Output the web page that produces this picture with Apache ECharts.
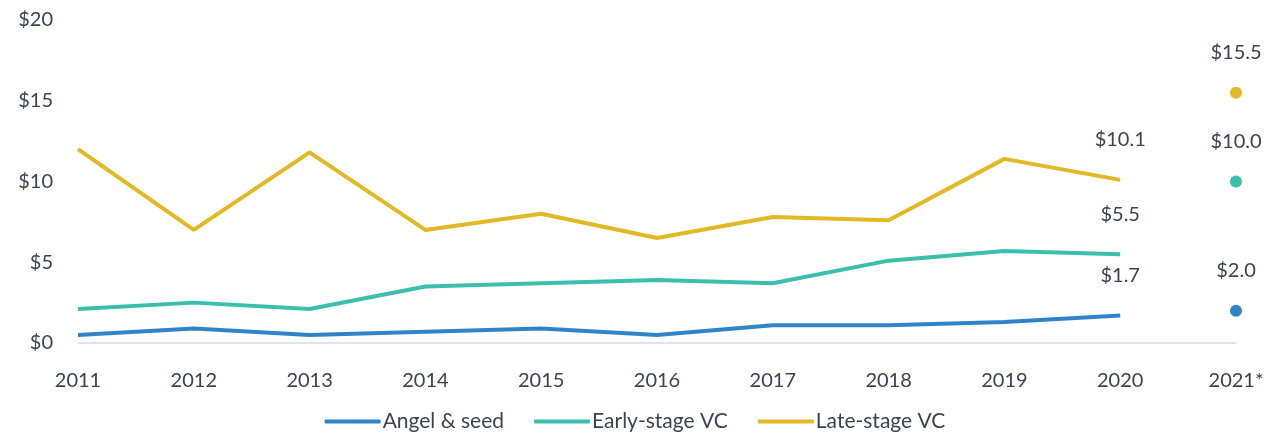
<!DOCTYPE html>
<html>
<head>
<meta charset="utf-8">
<script src="https://cdn.jsdelivr.net/npm/echarts@6/dist/echarts.min.js"></script>
<style>
  html, body { margin: 0; padding: 0; background: #fff; }
  #chart { width: 1270px; height: 438px; }
</style>
</head>
<body>
<div id="chart"></div>
<script>
// data (US$ billions)
const years = ["2011", "2012", "2013", "2014", "2015", "2016", "2017", "2018", "2019", "2020", "2021*"]
const angelSeed = [0.5, 0.9, 0.5, 0.7, 0.9, 0.5, 1.1, 1.1, 1.3, 1.7, null]
const earlyVC = [2.1, 2.5, 2.1, 3.5, 3.7, 3.9, 3.7, 5.1, 5.7, 5.5, null]
const lateVC = [12.0, 7.0, 11.8, 7.0, 8.0, 6.5, 7.8, 7.6, 11.4, 10.1, null]
const proj2021 = { angel: 2.0, early: 10.0, late: 15.5 }
const yTicks = [0, 5, 10, 15, 20]

const colors = { angel: "#2f84c7", early: "#3bbfad", late: "#e2b823" }
const textColor = "#3b4352"
const font = "Lato, 'Noto Sans', sans-serif"

// label only the 2020 point on each line
const lastLabel = (arr) =>
  arr.map((v, i) => (i === 9 ? { value: v, label: { show: true } } : v))

const lineSeries = (name, data, color) => ({
  name: name,
  type: "line",
  data: lastLabel(data),
  showSymbol: true,
  symbol: "circle",
  symbolSize: 0,
  lineStyle: { width: 4, color: color },
  itemStyle: { color: color, opacity: 1 },
  label: {
    show: false,
    position: "top",
    distance: 30,
    color: textColor,
    fontFamily: font,
    fontSize: 20,
    formatter: (p) => "$" + Number(p.value).toFixed(1),
  },
  emphasis: { disabled: true },
})

const dotSeries = (name, value, color) => ({
  name: name,
  type: "scatter",
  data: [["2021*", value]],
  symbolSize: 12,
  itemStyle: { color: color, opacity: 1 },
  label: {
    show: true,
    position: "top",
    distance: 24,
    color: textColor,
    fontFamily: font,
    fontSize: 20,
    formatter: (p) => "$" + p.value[1].toFixed(1),
  },
  emphasis: { disabled: true },
})

const chart = echarts.init(document.getElementById("chart"))
chart.setOption({
  animation: false,
  textStyle: { fontFamily: font },
  grid: { left: 78, right: 34, top: 20, bottom: 95, containLabel: false },
  legend: {
    data: ["Angel & seed", "Early-stage VC", "Late-stage VC"],
    bottom: 1,
    left: "center",
    itemWidth: 56,
    itemHeight: 4,
    itemGap: 30,
    icon: "roundRect",
    textStyle: { color: textColor, fontSize: 21, fontFamily: font, padding: [0, 0, 0, -3] },
  },
  xAxis: {
    type: "category",
    data: years,
    boundaryGap: false,
    axisLine: { lineStyle: { color: "#d9dce3", width: 1.5 } },
    axisTick: { show: false },
    axisLabel: { color: textColor, fontSize: 20, fontFamily: font, margin: 28 },
  },
  yAxis: {
    type: "value",
    min: yTicks[0],
    max: yTicks[yTicks.length - 1],
    interval: 5,
    splitLine: { show: false },
    axisLine: { show: false },
    axisTick: { show: false },
    axisLabel: {
      color: textColor,
      fontSize: 20,
      fontFamily: font,
      margin: 25,
      formatter: (v) => "$" + v,
    },
  },
  series: [
    lineSeries("Angel & seed", angelSeed, colors.angel),
    lineSeries("Early-stage VC", earlyVC, colors.early),
    lineSeries("Late-stage VC", lateVC, colors.late),
    dotSeries("Angel 2021", proj2021.angel, colors.angel),
    dotSeries("Early 2021", proj2021.early, colors.early),
    dotSeries("Late 2021", proj2021.late, colors.late),
  ],
})
</script>
</body>
</html>
